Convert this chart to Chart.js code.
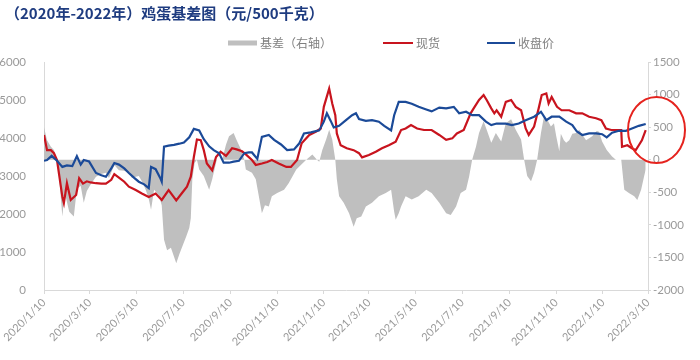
<!DOCTYPE html>
<html><head><meta charset="utf-8">
<script src="https://cdn.jsdelivr.net/npm/chart.js@4.4.1/dist/chart.umd.min.js"></script>
<style>html,body{margin:0;padding:0;background:#fff;}#wrap{width:700px;height:360px;position:relative;}</style>
</head><body><div id="wrap"><canvas id="c" width="700" height="360"></canvas></div>
<script>
const titleText = '（2020年-2022年）鸡蛋基差图（元/500千克）';
const seriesNames = ['基差（右轴）', '现货', '收盘价'];
const xTickLabels = ['2020/1/10','2020/3/10','2020/5/10','2020/7/10','2020/9/10','2020/11/10','2021/1/10','2021/3/10','2021/5/10','2021/7/10','2021/9/10','2021/11/10','2022/1/10','2022/3/10'];
const leftRange = [0, 6000, 1000];
const rightRange = [-2000, 1500, 500];

// 收盘价 (futures close)
const futDates = ['2020/1/10','2020/1/14','2020/1/20','2020/1/27','2020/2/3','2020/2/9','2020/2/16','2020/2/22','2020/2/27','2020/3/2','2020/3/9','2020/3/18','2020/3/25','2020/3/31','2020/4/7','2020/4/11','2020/4/17','2020/4/24','2020/4/30','2020/5/7','2020/5/13','2020/5/20','2020/5/26','2020/5/29','2020/6/4','2020/6/10','2020/6/12','2020/6/15','2020/6/21','2020/6/28','2020/7/5','2020/7/11','2020/7/18','2020/7/24','2020/7/31','2020/8/6','2020/8/13','2020/8/19','2020/8/26','2020/9/1','2020/9/8','2020/9/14','2020/9/21','2020/9/28','2020/10/4','2020/10/8','2020/10/15','2020/10/21','2020/10/30','2020/11/6','2020/11/15','2020/11/23','2020/12/2','2020/12/9','2020/12/15','2020/12/24','2021/1/4','2021/1/10','2021/1/14','2021/1/19','2021/1/23','2021/1/30','2021/2/8','2021/2/16','2021/2/21','2021/2/25','2021/3/6','2021/3/14','2021/3/23','2021/3/30','2021/4/8','2021/4/12','2021/4/18','2021/4/27','2021/5/5','2021/5/14','2021/5/24','2021/5/31','2021/6/10','2021/6/19','2021/6/29','2021/7/6','2021/7/15','2021/7/23','2021/8/1','2021/8/10','2021/8/17','2021/8/24','2021/9/5','2021/9/13','2021/9/22','2021/10/1','2021/10/12','2021/10/21','2021/10/28','2021/11/4','2021/11/14','2021/11/23','2021/12/1','2021/12/7','2021/12/14','2021/12/23','2022/1/1','2022/1/9','2022/1/15','2022/1/22','2022/1/31','2022/2/9','2022/2/17','2022/2/26','2022/3/7'];
const futValues = [3400,3420,3530,3400,3240,3280,3260,3520,3300,3420,3380,3080,3020,2980,3200,3340,3300,3200,3080,2950,2850,2780,2680,3240,3180,2950,2850,3770,3800,3820,3850,3880,4020,4240,4200,3970,3780,3680,3600,3350,3350,3380,3400,3600,3620,3620,3450,4030,4080,3950,3830,3680,3700,3860,4120,4150,4200,4430,4650,4450,4280,4320,4470,4600,4650,4500,4450,4470,4430,4320,4200,4600,4950,4950,4900,4820,4750,4700,4800,4780,4820,4650,4690,4600,4600,4430,4340,4380,4380,4340,4380,4470,4560,4690,4470,4560,4560,4430,4340,4170,4080,4120,4120,4100,4015,4140,4190,4190,4250,4320,4370];

// 现货 (spot)
const spotDates = ['2020/1/10','2020/1/14','2020/1/19','2020/1/23','2020/1/27','2020/2/3','2020/2/5','2020/2/9','2020/2/14','2020/2/21','2020/2/25','2020/3/1','2020/3/6','2020/3/11','2020/3/18','2020/3/25','2020/3/31','2020/4/7','2020/4/11','2020/4/17','2020/4/24','2020/4/30','2020/5/9','2020/5/17','2020/5/26','2020/6/4','2020/6/12','2020/6/21','2020/7/1','2020/7/8','2020/7/15','2020/7/20','2020/7/24','2020/7/28','2020/8/2','2020/8/6','2020/8/10','2020/8/17','2020/8/22','2020/8/28','2020/9/4','2020/9/12','2020/9/18','2020/9/25','2020/9/30','2020/10/8','2020/10/13','2020/10/21','2020/10/28','2020/11/3','2020/11/12','2020/11/22','2020/11/28','2020/12/6','2020/12/12','2020/12/22','2020/12/31','2021/1/6','2021/1/10','2021/1/17','2021/1/21','2021/1/25','2021/1/27','2021/2/1','2021/2/9','2021/2/18','2021/2/25','2021/3/1','2021/3/10','2021/3/19','2021/3/27','2021/4/5','2021/4/14','2021/4/21','2021/4/27','2021/5/4','2021/5/12','2021/5/21','2021/5/31','2021/6/10','2021/6/19','2021/6/27','2021/7/3','2021/7/12','2021/7/21','2021/7/25','2021/8/1','2021/8/7','2021/8/11','2021/8/17','2021/8/21','2021/8/24','2021/8/30','2021/9/5','2021/9/12','2021/9/18','2021/9/25','2021/10/1','2021/10/5','2021/10/12','2021/10/18','2021/10/22','2021/10/28','2021/10/31','2021/11/4','2021/11/11','2021/11/17','2021/11/27','2021/12/6','2021/12/14','2021/12/23','2022/1/1','2022/1/8','2022/1/14','2022/1/21','2022/1/27','2022/2/3','2022/2/4','2022/2/11','2022/2/17','2022/2/22','2022/2/26','2022/3/2','2022/3/7'];
const spotValues = [4080,3680,3680,3600,3420,2450,2290,2810,2370,2500,2940,2800,2860,2830,2810,2800,2800,2900,3050,2960,2850,2720,2630,2540,2450,2540,2370,2630,2360,2540,2720,2980,3500,3960,3940,3680,3330,3150,3500,3640,3530,3730,3700,3650,3570,3420,3290,3330,3370,3420,3330,3240,3240,3420,3860,4080,4170,4250,4820,5300,4910,4600,4120,3810,3730,3680,3600,3490,3550,3640,3730,3810,3900,4210,4250,4340,4250,4210,4210,4080,3950,3990,4120,4210,4650,4780,5000,5130,5000,4780,4650,4730,4560,4950,5000,4820,4730,4250,4080,4300,4780,5130,5170,4910,5080,4820,4730,4730,4650,4650,4560,4520,4470,4250,4210,4210,4210,3770,3810,3730,3680,3810,3940,4210];

// 基差 (basis, right axis)
const basisDates = ['2020/1/10','2020/1/14','2020/1/19','2020/1/23','2020/1/27','2020/1/30','2020/2/3','2020/2/6','2020/2/12','2020/2/18','2020/2/22','2020/2/27','2020/3/2','2020/3/6','2020/3/11','2020/3/18','2020/3/25','2020/3/31','2020/4/4','2020/4/11','2020/4/17','2020/4/24','2020/4/30','2020/5/4','2020/5/9','2020/5/13','2020/5/18','2020/5/22','2020/5/26','2020/5/29','2020/6/2','2020/6/6','2020/6/8','2020/6/12','2020/6/15','2020/6/19','2020/6/24','2020/7/1','2020/7/5','2020/7/7','2020/7/14','2020/7/18','2020/7/20','2020/7/22','2020/7/25','2020/7/28','2020/7/31','2020/8/6','2020/8/13','2020/8/17','2020/8/23','2020/8/30','2020/9/4','2020/9/8','2020/9/14','2020/9/18','2020/9/24','2020/9/28','2020/9/30','2020/10/8','2020/10/13','2020/10/21','2020/10/25','2020/10/30','2020/11/3','2020/11/10','2020/11/19','2020/11/25','2020/12/5','2020/12/11','2020/12/18','2020/12/26','2021/1/1','2021/1/4','2021/1/8','2021/1/13','2021/1/17','2021/1/21','2021/1/25','2021/1/27','2021/1/30','2021/2/5','2021/2/12','2021/2/18','2021/2/22','2021/2/28','2021/3/6','2021/3/14','2021/3/23','2021/4/1','2021/4/8','2021/4/12','2021/4/14','2021/4/18','2021/4/21','2021/4/27','2021/5/5','2021/5/14','2021/5/24','2021/5/31','2021/6/10','2021/6/19','2021/6/25','2021/7/2','2021/7/8','2021/7/15','2021/7/19','2021/7/23','2021/7/28','2021/8/1','2021/8/7','2021/8/11','2021/8/17','2021/8/23','2021/8/30','2021/9/5','2021/9/12','2021/9/18','2021/9/25','2021/9/29','2021/10/3','2021/10/8','2021/10/12','2021/10/16','2021/10/21','2021/10/25','2021/10/29','2021/11/3','2021/11/7','2021/11/10','2021/11/14','2021/11/16','2021/11/20','2021/11/23','2021/11/27','2021/12/1','2021/12/6','2021/12/10','2021/12/19','2021/12/27','2022/1/2','2022/1/5','2022/1/9','2022/1/15','2022/1/22','2022/1/27','2022/2/3','2022/2/7','2022/2/13','2022/2/20','2022/2/24','2022/3/1','2022/3/5','2022/3/7'];
const basisValues = [500,300,200,150,0,-300,-870,-500,-800,-870,-450,-400,-660,-480,-380,-260,-220,-200,-280,-80,-160,-170,-200,-280,-260,-250,-350,-460,-600,-770,-460,-520,-540,-700,-1230,-1390,-1350,-1590,-1450,-1390,-1180,-1050,-900,-300,-50,0,-150,-250,-460,-300,0,0,230,360,410,300,150,0,-150,-200,-300,-820,-700,-720,-560,-510,-460,-360,-150,-80,0,80,0,-30,150,310,460,310,0,-300,-560,-660,-820,-1030,-900,-870,-720,-660,-560,-510,-460,-800,-920,-820,-720,-560,-610,-560,-460,-510,-660,-820,-850,-720,-510,-460,-260,0,200,410,590,460,260,410,280,560,620,460,310,0,-250,-330,-200,0,410,670,620,510,560,360,130,400,300,260,300,400,410,460,300,360,440,430,280,150,50,0,0,-460,-510,-560,-620,-460,-250,-150];

const BASE = Date.UTC(2020, 0, 10);
function toDay(s) { const p = s.split('/').map(Number); return Math.round((Date.UTC(p[0], p[1]-1, p[2]) - BASE) / 86400000); }
function pts(dates, vals) { return dates.map((d, i) => ({ x: toDay(d), y: vals[i] })); }

const tickColor = '#9a9a9a';
const axisColor = '#d9d9d9';
const RED = '#C8141E', BLUE = '#1B4A98', GRAY = '#bfbfbf';

const decor = {
  id: 'decor',
  afterDraw(chart) {
    const ctx = chart.ctx;
    ctx.save();
    // title
    ctx.fillStyle = '#1F3C80';
    ctx.font = 'bold 15px "Noto Sans CJK SC", sans-serif';
    ctx.textBaseline = 'middle';
    ctx.textAlign = 'left';
    ctx.fillText(titleText, 5, 13);
    // legend
    const ds = chart.data.datasets;
    const items = [
      { ds: ds[2], x: 228, w: 29, box: true },
      { ds: ds[1], x: 383, w: 30 },
      { ds: ds[0], x: 487, w: 28 }
    ];
    ctx.font = '12px "Noto Sans CJK SC", sans-serif';
    items.forEach(it => {
      const y = 43;
      if (it.box) {
        ctx.fillStyle = it.ds.backgroundColor;
        ctx.fillRect(it.x, y - 2.5, it.w, 5);
      } else {
        ctx.strokeStyle = it.ds.borderColor;
        ctx.lineWidth = 2;
        ctx.beginPath(); ctx.moveTo(it.x, y); ctx.lineTo(it.x + it.w, y); ctx.stroke();
      }
      ctx.fillStyle = '#7f7f7f';
      ctx.fillText(it.ds.label, it.x + it.w + 3, y);
    });
    // red circle annotation
    ctx.strokeStyle = '#E5231E';
    ctx.lineWidth = 2;
    ctx.beginPath();
    ctx.ellipse(656.5, 130, 28.5, 33, 0, 0, Math.PI * 2);
    ctx.stroke();
    ctx.restore();
  }
};

new Chart(document.getElementById('c'), {
  type: 'line',
  data: {
    datasets: [
      { label: seriesNames[2], data: pts(futDates, futValues), yAxisID: 'y', borderColor: BLUE, borderWidth: 2.2, pointRadius: 0, fill: false, order: 1 },
      { label: seriesNames[1], data: pts(spotDates, spotValues), yAxisID: 'y', borderColor: RED, borderWidth: 2.2, pointRadius: 0, fill: false, order: 2 },
      { label: seriesNames[0], data: pts(basisDates, basisValues), yAxisID: 'y1', borderColor: 'rgba(0,0,0,0)', backgroundColor: GRAY, borderWidth: 0, pointRadius: 0, fill: 'origin', order: 3 }
    ]
  },
  options: {
    responsive: false,
    animation: false,
    devicePixelRatio: 1,
    layout: { padding: { top: 62, left: 0, right: 0, bottom: 0 } },
    plugins: { legend: { display: false }, title: { display: false }, tooltip: { enabled: false } },
    scales: {
      x: {
        type: 'linear', min: 0, max: toDay(xTickLabels[xTickLabels.length - 1]),
        afterBuildTicks: s => { s.ticks = xTickLabels.map(l => ({ value: toDay(l) })); },
        ticks: { autoSkip: false, maxRotation: 45, minRotation: 45, padding: 2, color: tickColor,
          font: { family: 'Lato', size: 11 }, callback: (v, i) => xTickLabels[i] },
        grid: { display: true, drawOnChartArea: false, drawTicks: true, tickLength: 4, color: axisColor },
        border: { display: true, color: axisColor },
        afterFit: s => { s.height = 70; }
      },
      y: {
        position: 'left', min: leftRange[0], max: leftRange[1],
        ticks: { stepSize: leftRange[2], color: tickColor, padding: 10, font: { family: 'Lato', size: 11.5 }, callback: v => String(v) },
        grid: { display: false },
        border: { display: true, color: axisColor },
        afterFit: s => { s.width = 44; }
      },
      y1: {
        position: 'right', min: rightRange[0], max: rightRange[1],
        ticks: { stepSize: rightRange[2], color: tickColor, padding: 2, font: { family: 'Lato', size: 11.5 }, callback: v => String(v) },
        grid: { display: true, drawOnChartArea: false, drawTicks: true, tickLength: 3, color: axisColor },
        border: { display: true, color: axisColor },
        afterFit: s => { s.width = 52; }
      }
    }
  },
  plugins: [decor]
});
</script>
</body></html>
